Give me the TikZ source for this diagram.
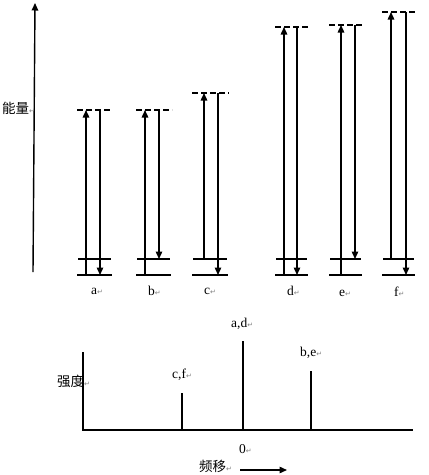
\documentclass[tikz,border=0pt]{standalone}
\usepackage{fontspec}
\setmainfont{Liberation Serif}
\newfontfamily\cjk{Noto Sans CJK SC}
\newfontfamily\retfont{DejaVu Sans}
\usetikzlibrary{arrows.meta}
\newcommand\ret{{\retfont\fontsize{7}{7}\selectfont\color{gray}↵}}
\tikzset{
  ln/.style={line width=1.4pt},
  arr/.style={line width=1.4pt,-{Triangle[length=7.5pt,width=6.5pt]}},
  dsh/.style={line width=1.4pt,dash pattern=on 6pt off 3pt},
  lab/.style={font=\fontsize{13.5}{13.5}\selectfont,inner sep=0pt,anchor=west},
  cjklab/.style={font=\cjk\fontsize{13.5}{13.5}\selectfont,inner sep=0pt,anchor=west}
}
\begin{document}
\begin{tikzpicture}[x=1pt,y=-1pt]
\useasboundingbox (0,0) rectangle (429,475);
% energy axis
\coordinate (eb) at (33,272);
\coordinate (et) at (35,3);
\draw[arr] (eb) -- (et);
\node[cjklab] (energy) at (2,108) {能量\ret};
% level groups
\foreach \n/\xu/\xd/\yt/\yu/\yd/\l/\r in {
  a/86/100/110/275/275/78/111,
  b/145/159/110/275/259/137/170,
  c/204/218/93/259/275/193/227,
  d/284/297/27/275/275/276/307,
  e/341/355/25/275/259/330/361,
  f/391/406/12/259/275/383/414}{
  \coordinate (\n hl) at (\l,259);
  \coordinate (\n hr) at (\r,259);
  \coordinate (\n ll) at (\l-1,275);
  \coordinate (\n lr) at (\r+1,275);
  \coordinate (\n vl) at (\l-1,\yt);
  \coordinate (\n vr) at (\r+2,\yt);
  \coordinate (\n us) at (\xu,\yu);
  \coordinate (\n ut) at (\xu,\yt);
  \coordinate (\n ds) at (\xd,\yt);
  \coordinate (\n de) at (\xd,\yd);
  \draw[ln] (\n hl) -- (\n hr);
  \draw[ln] (\n ll) -- (\n lr);
  \draw[dsh] (\n vl) -- (\n vr);
  \draw[arr] (\n us) -- (\n ut);
  \draw[arr] (\n ds) -- (\n de);
}
\node[lab] (la) at (91,291) {a\ret};
\node[lab] (lb) at (148,291) {b\ret};
\node[lab] (lc) at (204,291) {c\ret};
\node[lab] (ld) at (287,291) {d\ret};
\node[lab] (le) at (339,293) {e\ret};
\node[lab] (lf) at (394,292) {f\ret};
% spectrum
\coordinate (o) at (83,430);
\coordinate (yt) at (83,352);
\coordinate (xr) at (413,430);
\draw[ln] (yt) -- (o) -- (xr);
\coordinate (p1b) at (182,430); \coordinate (p1t) at (182,393);
\coordinate (p2b) at (243,430); \coordinate (p2t) at (243,341);
\coordinate (p3b) at (311,430); \coordinate (p3t) at (311,371);
\draw[ln] (p1b) -- (p1t);
\draw[ln] (p2b) -- (p2t);
\draw[ln] (p3b) -- (p3t);
\node[lab] (cf) at (172,375) {c,f\ret};
\node[lab] (ad) at (231,324) {a,d\ret};
\node[lab] (be) at (300,353) {b,e\ret};
\node[lab] (zero) at (239,449) {0\ret};
\node[cjklab] (intens) at (57,381) {强度\ret};
\node[cjklab] (shift) at (199,466) {频移\ret};
\coordinate (fa) at (240,470);
\coordinate (fb) at (287,470);
\draw[arr] (fa) -- (fb);
\end{tikzpicture}
\end{document}
